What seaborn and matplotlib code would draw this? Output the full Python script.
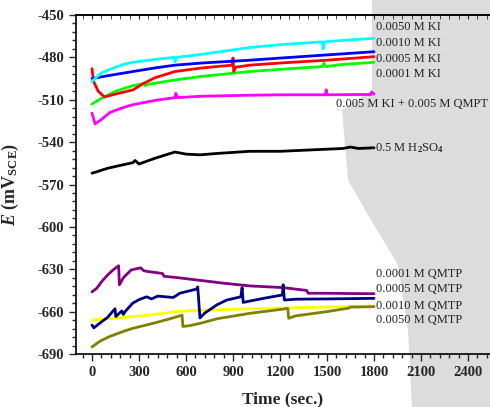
import numpy as np
import pandas as pd
import matplotlib
matplotlib.use("Agg")
import matplotlib.pyplot as plt
from matplotlib.patches import Polygon
from matplotlib.ticker import MultipleLocator
import seaborn as sns

sns.set_style("ticks")
plt.rcParams['font.family'] = ['Liberation Serif', 'DejaVu Serif']
plt.rcParams['font.weight'] = 'bold'
plt.rcParams['axes.unicode_minus'] = False
plt.rcParams['mathtext.fontset'] = 'custom'
plt.rcParams['mathtext.rm'] = 'Liberation Serif'
plt.rcParams['mathtext.it'] = 'Liberation Serif:italic:bold'
plt.rcParams['mathtext.bf'] = 'Liberation Serif:bold'

# ---------------- data ----------------
t_cyan = [0, 30, 60, 115, 200, 262, 400, 525, 530, 540, 690, 850, 1008, 1200, 1470, 1475, 1485, 1600, 1800]
e_cyan = [-497, -494, -491, -488.5, -485, -483.5, -481.5, -480, -483, -480, -478, -475.5, -473, -471, -469, -474, -469, -468, -466.5]

t_blue = [0, 100, 262, 400, 530, 700, 1008, 1200, 1400, 1600, 1800]
e_blue = [-495, -493, -490, -487.5, -485.5, -484, -482, -480.5, -479, -477.5, -476]

t_red = [0, 10, 40, 80, 150, 262, 320, 400, 530, 700, 895, 900, 905, 915, 1008, 1200, 1500, 1800]
e_red = [-488, -497, -504, -508, -506, -503, -499, -494.5, -490, -487.5, -485.5, -480.5, -490, -487, -485.5, -484, -482, -479.5]

t_green = [0, 60, 150, 262, 330, 340, 360, 530, 700, 1008, 1200, 1470, 1480, 1490, 1600, 1800]
e_green = [-513, -509, -504, -500, -498.5, -500, -499, -496, -493.5, -490, -488.5, -486.5, -484, -486.5, -485, -483.5]

t_mag = [0, 20, 60, 115, 200, 262, 400, 530, 535, 545, 700, 1008, 1200, 1490, 1495, 1500, 1700, 1780, 1785, 1800]
e_mag = [-519.5, -527, -524, -519, -515.5, -513.5, -510.5, -508.5, -505.5, -508.5, -507.5, -506.8, -506.5, -506.5, -503, -506.5, -506.3, -506.3, -504.5, -506]

t_black = [0, 30, 100, 200, 262, 275, 300, 400, 500, 530, 600, 690, 800, 1008, 1200, 1400, 1600, 1650, 1700, 1800]
e_black = [-562, -561, -558.5, -556, -554.5, -553, -555.5, -551.5, -548, -547, -548.5, -549, -548, -546.5, -546.5, -545.5, -544.5, -543.5, -544.5, -544]

t_purple = [0, 30, 60, 100, 140, 170, 175, 200, 250, 310, 330, 350, 450, 460, 550, 700, 850, 1008, 1220, 1370, 1380, 1500, 1650, 1800]
e_purple = [-646, -643.5, -639, -634, -630, -627.5, -641, -636, -630.5, -629, -631, -631.5, -633, -635, -636, -638, -640, -641.8, -643, -645, -647, -647, -647.2, -647.3]

t_navy = [0, 12, 40, 100, 147, 152, 190, 200, 211, 260, 300, 349, 380, 420, 519, 560, 668, 675, 689, 720, 800, 860, 950, 958, 965, 1008, 1100, 1215, 1220, 1228, 1300, 1500, 1800]
e_navy = [-669.5, -671.5, -669, -664, -658, -663.5, -659.5, -662, -660, -654, -651.5, -649.5, -651, -649, -650, -647, -644, -642.5, -664.5, -661, -655, -651.8, -649.5, -643, -653.5, -652.5, -650.5, -648.2, -641, -651.8, -651.2, -651, -650.6]

t_yellow = [0, 100, 262, 400, 530, 700, 1008, 1200, 1400, 1600, 1800]
e_yellow = [-666, -665, -663.5, -662, -660, -659, -658, -657.5, -657, -656.5, -656]

t_olive = [0, 50, 115, 200, 262, 400, 500, 575, 580, 620, 690, 800, 1008, 1200, 1250, 1255, 1300, 1500, 1640, 1645, 1800]
e_olive = [-685, -681, -677.5, -674, -671.8, -668, -665, -662.5, -670.5, -670, -668.3, -665, -661.2, -658.5, -657.7, -664.7, -663, -660, -657.5, -656.8, -656.5]

series = [
    (t_yellow, e_yellow, '#ffff00'),
    (t_olive, e_olive, '#808000'),
    (t_purple, e_purple, '#800080'),
    (t_navy, e_navy, '#000080'),
    (t_black, e_black, '#000000'),
    (t_mag, e_mag, '#ff00ff'),
    (t_green, e_green, '#00ff00'),
    (t_red, e_red, '#ff0000'),
    (t_blue, e_blue, '#0000ff'),
    (t_cyan, e_cyan, '#00ffff'),
]

labels = ['0.0050 M KI', '0.0010 M KI', '0.0005 M KI', '0.0001 M KI',
          '0.005 M KI + 0.005 M QMPT', r'0.5 M H$_2$SO$_4$',
          '0.0001 M QMTP', '0.0005 M QMTP', '0.0010 M QMTP', '0.0050 M QMTP']
label_t = [1810, 1810, 1810, 1810, 1555, 1805, 1810, 1810, 1810, 1810]
label_e = [-458.7, -470, -481, -492, -513, -544, -633.4, -644.2, -655.8, -666]

# ---------------- figure ----------------
W, H = 490, 407
fig = plt.figure(figsize=(W / 100, H / 100), dpi=100)
fig.patch.set_facecolor('white')

# background watermark approximation (figure pixel coords, y from top)
def fpoly(pts, color):
    p = Polygon([(x / W, 1 - y / H) for x, y in pts], closed=True,
                transform=fig.transFigure, facecolor=color, edgecolor='none', zorder=-5)
    fig.patches.append(p)

fpoly([(372, 0), (490, 0), (490, 407), (412, 407), (408, 330), (398, 265),
       (368, 215), (348, 180), (342, 110), (372, 90)], '#dcdcdc')

ax = fig.add_axes([76 / W, 1 - 354 / H, (W - 76) / W, (354 - 15) / H])
ax.set_facecolor('none')
ax.set_zorder(2)

for t, e, c in series:
    sns.lineplot(x=t, y=e, color=c, lw=2, ax=ax, sort=False, estimator=None, legend=False)

for lab, tx, ey in zip(labels, label_t, label_e):
    ax.text(tx, ey, lab, fontsize=9, fontweight='normal', va='center', ha='left',
            clip_on=False, color='#222222')

ax.set_xlim(-102, 2540)
ax.set_ylim(-690, -450)
ax.set_xticks(np.arange(0, 2401, 300))
ax.set_yticks(np.arange(-690, -449, 30))
ax.xaxis.set_minor_locator(MultipleLocator(60))
ax.yaxis.set_minor_locator(MultipleLocator(6))
ax.tick_params(which='major', direction='out', length=5, width=1, labelsize=10.5)
ax.tick_params(which='minor', direction='out', length=3, width=1)

for s in ['left', 'bottom', 'top']:
    ax.spines[s].set_linewidth(1.2)
    ax.spines[s].set_color('black')
ax.spines['right'].set_visible(False)

top = ax.secondary_xaxis('top')
top.xaxis.set_major_locator(MultipleLocator(300))
top.xaxis.set_minor_locator(MultipleLocator(60))
top.tick_params(which='both', direction='in', length=3, labeltop=False)
top.spines['top'].set_linewidth(1.2)

ax.set_xlabel('Time (sec.)', fontsize=12.5, fontweight='bold', labelpad=9)
ax.set_ylabel(r'$E\ \mathbf{(mV_{SCE})}$', fontsize=13, labelpad=12)

fig.savefig('out.png', dpi=100)
